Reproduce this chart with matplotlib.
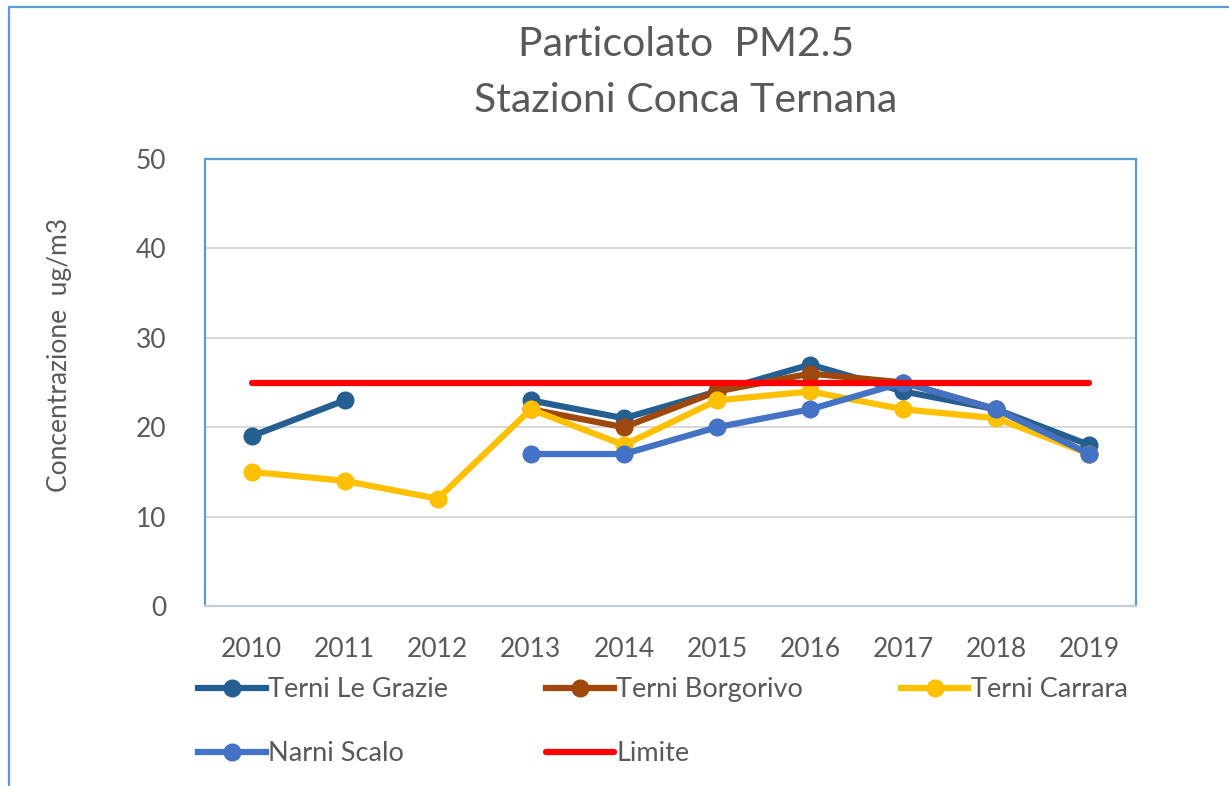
import numpy as np
import matplotlib
matplotlib.use("Agg")
import matplotlib.pyplot as plt
from matplotlib.lines import Line2D
from matplotlib.patches import Rectangle

plt.rcParams['font.family'] = ['Lato', 'DejaVu Sans']

years = [2010, 2011, 2012, 2013, 2014, 2015, 2016, 2017, 2018, 2019]
nan = np.nan
le_grazie = [19, 23, nan, 23, 21, 24, 27, 24, 22, 18]
borgorivo = [nan, nan, nan, 22, 20, 24, 26, 25, 22, 17]
carrara = [15, 14, 12, 22, 18, 23, 24, 22, 21, 17]
narni = [nan, nan, nan, 17, 17, 20, 22, 25, 22, 17]
limite = [25] * 10

series = [
    ("Terni Le Grazie", le_grazie, "#255E91", True),
    ("Terni Borgorivo", borgorivo, "#9E480E", True),
    ("Terni Carrara", carrara, "#FFC000", True),
    ("Narni Scalo", narni, "#4472C4", True),
    ("Limite", limite, "#FF0000", False),
]

W, H = 1229, 786
TXT = "#595959"
BLUE = "#5B9BD5"

fig = plt.figure(figsize=(W / 100, H / 100), dpi=100)

# outer chart frame (cut at right and bottom)
fig.patches.append(Rectangle((9 / W, -0.05), 1.1, 1 - 7 / H + 0.05,
                             transform=fig.transFigure, fill=False,
                             edgecolor=BLUE, linewidth=1.6))

ax = fig.add_axes([205 / W, (H - 606) / H, 931 / W, 447 / H])

x = np.arange(len(years))
handles = []
for name, vals, col, mark in series:
    if mark:
        ax.plot(x, vals, color=col, lw=4.5, marker="o", markersize=12,
                solid_capstyle="round", zorder=3)
        handles.append(Line2D([], [], color=col, lw=4.5, marker="o",
                              markersize=12, label=name))
    else:
        ax.plot(x, vals, color=col, lw=4.5, solid_capstyle="round", zorder=4)
        handles.append(Line2D([], [], color=col, lw=4.5, label=name,
                              solid_capstyle="round"))

ax.set_xlim(-0.5, len(years) - 0.5)
ax.set_ylim(0, 50)
ax.set_yticks([0, 10, 20, 30, 40, 50])
ax.set_xticks(x)
ax.set_xticklabels([str(y) for y in years])
ax.grid(axis="y", color="#D9D9D9", lw=1.5)
ax.set_axisbelow(True)
ax.tick_params(length=0, labelsize=19, colors=TXT)
ax.tick_params(axis="x", pad=22)
ax.tick_params(axis="y", pad=28)

for s in ["top", "left", "right"]:
    ax.spines[s].set_color(BLUE)
    ax.spines[s].set_linewidth(1.6)
ax.spines["bottom"].set_color("#C5CBD2")
ax.spines["bottom"].set_linewidth(1.6)

fig.text(60 / W, 1 - 355 / H, "Concentrazione  ug/m3", rotation=90,
         ha="center", va="center", fontsize=19, color=TXT)

fig.text(686 / W, 1 - 45 / H, "Particolato  PM2.5", ha="center",
         va="center", fontsize=29.5, color=TXT)
fig.text(686 / W, 1 - 100 / H, "Stazioni Conca Ternana", ha="center",
         va="center", fontsize=29.5, color=TXT)

# legend rows: Excel fills row-wise, matplotlib column-wise
order = [0, 3, 1, 4, 2]
fig.legend([handles[i] for i in order], [handles[i].get_label() for i in order],
           ncol=3, loc="upper left", bbox_to_anchor=(198 / W, 1 - 677 / H),
           frameon=False, fontsize=19.5, labelcolor=TXT, handlelength=2.5,
           handletextpad=0.1, columnspacing=3.6, labelspacing=1.45,
           borderaxespad=0, borderpad=0)

fig.savefig("out.png", dpi=100)
